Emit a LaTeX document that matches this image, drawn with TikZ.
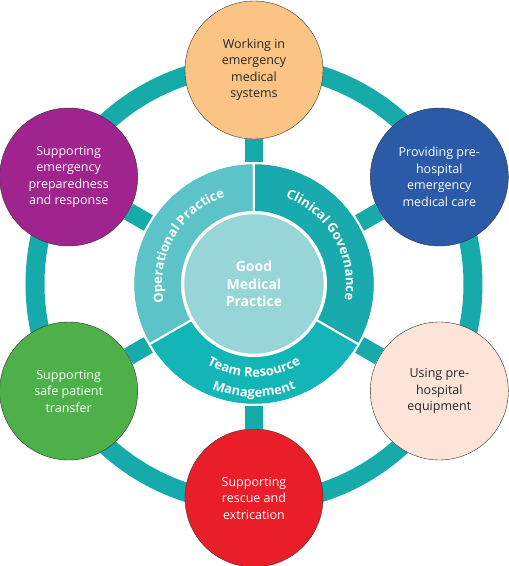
\documentclass[tikz,border=0pt]{standalone}
\usepackage{fontspec}
\setmainfont{Open Sans}
\usepackage{tikz}
\usetikzlibrary{decorations.text}

\definecolor{ringteal}{RGB}{23,170,170}
\definecolor{opteal}{RGB}{92,196,200}
\definecolor{cgteal}{RGB}{24,170,172}
\definecolor{trteal}{RGB}{20,181,183}
\definecolor{gmpfill}{RGB}{152,213,216}
\definecolor{workfill}{RGB}{251,196,132}
\definecolor{carefill}{RGB}{42,90,168}
\definecolor{equipfill}{RGB}{252,229,216}
\definecolor{rescuefill}{RGB}{233,30,40}
\definecolor{transferfill}{RGB}{78,176,72}
\definecolor{preparefill}{RGB}{160,36,142}
\newcommand\ringfont{\fontsize{13}{15}\selectfont\bfseries\color{white}}

\begin{document}
\begin{tikzpicture}[
    x=1pt, y=1pt,
    sat/.style={
        circle,
        draw=black!80,
        thin,
        minimum size=138pt,
        inner sep=0pt,
        align=center,
        font=\fontsize{12.5}{16.5}\selectfont
    },
    sector/.style={draw=white, line width=2pt},
    spoke/.style={draw=ringteal, line width=18pt},
    ringtext/.style={decorate, decoration={text along path, text align=center, text={|\ringfont|#1}}}
]
\useasboundingbox (-254,-282) rectangle (255,284);

% outer ring
\draw[ringteal, line width=19pt] (0,0) circle[radius=219];

% three sectors of the hub
\fill[sector, fill=opteal] (90:121) arc[start angle=90, end angle=210, radius=121]
    -- (210:72) arc[start angle=210, end angle=90, radius=72] -- cycle;
\fill[sector, fill=cgteal] (-30:121) arc[start angle=-30, end angle=90, radius=121]
    -- (90:72) arc[start angle=90, end angle=-30, radius=72] -- cycle;
\fill[sector, fill=trteal] (210:121) arc[start angle=210, end angle=330, radius=121]
    -- (330:72) arc[start angle=330, end angle=210, radius=72] -- cycle;
\node[circle, minimum size=242pt, inner sep=0pt, draw=white, line width=2pt] (hub) at (0,0) {};
\node[circle, minimum size=142pt, inner sep=0pt, fill=gmpfill, draw=white, line width=2.5pt,
      align=center, text=white, font=\fontsize{14}{17.5}\selectfont\bfseries] (gmp) at (0,0)
      {Good\\Medical\\Practice};

\path[ringtext=Operational Practice] (200:92) arc[start angle=200, end angle=100, radius=92];
\path[ringtext=Clinical Governance] (80:92) arc[start angle=80, end angle=-20, radius=92];
\path[ringtext=Team Resource] (220:93) arc[start angle=220, end angle=320, radius=93];
\path[ringtext=Management] (220:113) arc[start angle=220, end angle=320, radius=113];

% the six areas
\node[sat, fill=workfill, text=black!85] (work) at (90:214) {Working in\\emergency\\medical\\systems};
\node[sat, fill=carefill, text=white] (care) at (30:214) {Providing pre-\\hospital\\emergency\\medical care};
\node[sat, fill=equipfill, text=black!85] (equip) at (-30:214) {Using pre-\\hospital\\equipment};
\node[sat, fill=rescuefill, text=white] (rescue) at (-90:214) {Supporting\\rescue and\\extrication};
\node[sat, fill=transferfill, text=white] (transfer) at (210:214) {Supporting\\safe patient\\transfer};
\node[sat, fill=preparefill, text=white] (prepare) at (150:214) {Supporting\\emergency\\preparedness\\and response};

\foreach \s in {work, care, equip, rescue, transfer, prepare}
    \draw[spoke] (hub) -- (\s);
\end{tikzpicture}
\end{document}
